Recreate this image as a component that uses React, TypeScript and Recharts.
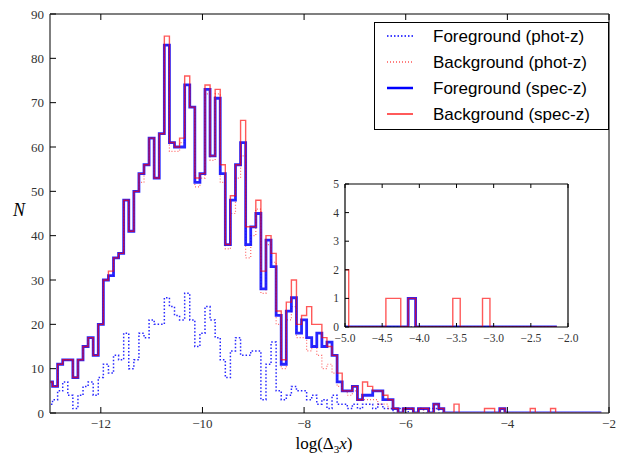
import React from "react";
import { Line, LineChart, XAxis, YAxis } from "recharts";

// histogram bins: left edge of the first bin and bin width in log(Delta_3 x)
const binLeft = -13.05;
const binWidth = 0.1;

const fgPhot = [
  2, 3, 5, 7, 4, 1, 4, 6, 7, 4,
  8, 11, 9, 13, 12, 18, 10, 12, 18, 17,
  21, 20, 20, 26, 24, 22, 21, 27, 21, 15,
  18, 24, 21, 17, 12, 8, 14, 17, 13, 13,
  14, 14, 3, 11, 16, 5, 3, 4, 6, 5,
  5, 3, 4, 2, 3, 1, 4, 2, 2, 1,
  2, 1, 2, 2, 1, 2, 1, 1, 0, 1,
  0, 1, 0, 1, 0, 1, 1, 0, 0, 0,
  0, 0, 0, 0, 0, 0, 0, 0, 0, 0,
  0, 0, 0, 0, 0, 0, 0, 0, 0, 0,
  0, 0, 0, 0, 0, 0, 0, 0, 0,
];

const bgPhot = [
  7, 6, 11, 12, 12, 8, 12, 15, 17, 13,
  20, 30, 31, 35, 36, 48, 41, 50, 52, 56,
  62, 53, 63, 83, 59, 59, 61, 74, 69, 51,
  53, 72, 57, 72, 52, 37, 45, 53, 58, 35,
  40, 46, 27, 38, 34, 20, 10, 21, 24, 17,
  17, 14, 15, 13, 10, 11, 9, 6, 5, 4,
  5, 3, 3, 3, 3, 2, 2, 1, 1, 0,
  1, 1, 0, 1, 0, 0, 1, 1, 0, 0,
  0, 0, 0, 0, 0, 0, 0, 0, 0, 0,
  0, 0, 0, 0, 0, 0, 0, 0, 0, 0,
  0, 0, 0, 0, 0, 0, 0, 0, 0,
];

const fgSpec = [
  7, 6, 11, 12, 12, 8, 12, 15, 17, 13,
  20, 30, 31, 35, 36, 48, 41, 50, 54, 56,
  62, 53, 63, 83, 61, 60, 60, 74, 69, 52,
  54, 73, 58, 71, 54, 38, 48, 56, 61, 38,
  42, 45, 28, 39, 33, 22, 11, 23, 26, 18,
  21, 17, 15, 18, 15, 16, 13, 7, 5, 5,
  6, 3, 4, 4, 5, 5, 3, 3, 1, 0,
  1, 1, 0, 1, 1, 0, 2, 1, 0, 0,
  0, 0, 0, 0, 0, 0, 0, 0, 0, 1,
  0, 0, 0, 0, 0, 0, 0, 0, 0, 0,
  0, 0, 0, 0, 0, 0, 0, 0, 0,
];

const bgSpec = [
  7, 6, 11, 12, 12, 8, 12, 15, 17, 13,
  20, 30, 32, 35, 36, 48, 41, 50, 54, 56,
  62, 53, 63, 85, 61, 60, 62, 76, 69, 53,
  54, 74, 58, 73, 56, 38, 49, 56, 66, 42,
  42, 48, 32, 40, 36, 23, 12, 25, 30, 20,
  22, 24, 20, 20, 17, 15, 13, 9, 5, 5,
  6, 3, 7, 6, 5, 5, 4, 3, 1, 0,
  1, 1, 0, 1, 1, 0, 2, 1, 0, 0,
  2, 0, 0, 0, 0, 0, 1, 1, 0, 1,
  0, 0, 0, 0, 0, 1, 0, 0, 0, 1,
  0, 0, 0, 0, 0, 0, 0, 0, 0,
];

const mainXTicks = [-12, -10, -8, -6, -4, -2];
const mainYTicks = [0, 10, 20, 30, 40, 50, 60, 70, 80, 90];
const insetXTicks = [-5, -4.5, -4, -3.5, -3, -2.5, -2];
const insetYTicks = [0, 1, 2, 3, 4, 5];

const legendItems = [
  { label: "Foreground (phot-z)", color: "#0000ff", width: 1.5, dash: "1.5 2" },
  { label: "Background (phot-z)", color: "#ff0000", width: 1.2, dash: "1 2" },
  { label: "Foreground (spec-z)", color: "#0000ff", width: 2.5, dash: undefined },
  { label: "Background (spec-z)", color: "#ff0000", width: 1.3, dash: undefined },
];

const rows = fgSpec.map((_, i) => ({
  x: +(binLeft + i * binWidth).toFixed(2),
  fgPhot: fgPhot[i],
  bgPhot: bgPhot[i],
  fgSpec: fgSpec[i],
  bgSpec: bgSpec[i],
}));
rows.push({ x: +(binLeft + fgSpec.length * binWidth).toFixed(2), fgPhot: 0, bgPhot: 0, fgSpec: 0, bgSpec: 0 });

const SERIF = "'Liberation Serif', 'DejaVu Serif', serif";
const SANS = "'Liberation Sans', Arial, sans-serif";

// main plot box (page pixels)
const PL = 50, PR = 609, PT = 14, PB = 413;
// inset chart placement and its plot box (inset svg pixels)
const INX = 320, INY = 174, INW = 260, INH = 180;
const IL = 25, IR = 248, IT = 10, IB = 153;

const minus = (v: number, digits = 0) => (v < 0 ? "\u2212" : "") + Math.abs(v).toFixed(digits);

function series() {
  return [
    <Line key="fp" dataKey="fgPhot" type="stepAfter" stroke="#0000ff" strokeWidth={1.5} strokeDasharray="1.5 2" strokeOpacity={0.85} dot={false} isAnimationActive={false} />,
    <Line key="bp" dataKey="bgPhot" type="stepAfter" stroke="#ff0000" strokeWidth={1.2} strokeDasharray="1 2" strokeOpacity={0.6} dot={false} isAnimationActive={false} />,
    <Line key="fs" dataKey="fgSpec" type="stepAfter" stroke="#0000ff" strokeWidth={2.8} strokeOpacity={0.85} dot={false} isAnimationActive={false} />,
    <Line key="bs" dataKey="bgSpec" type="stepAfter" stroke="#ff0000" strokeWidth={1.4} strokeOpacity={0.65} dot={false} isAnimationActive={false} />,
  ];
}

function tickSet(box: { l: number; r: number; t: number; b: number }, len: number, size: number, digits: number) {
  const bottom = ({ x, y, payload }: any) => (
    <g>
      <line x1={x} x2={x} y1={box.b} y2={box.b - len} stroke="#000" />
      <text x={x} y={y} dy="0.75em" textAnchor="middle" fontFamily={SERIF} fontSize={size} fill="#333">
        {minus(payload.value, digits)}
      </text>
    </g>
  );
  const left = ({ x, y, payload }: any) => (
    <g>
      <line x1={box.l} x2={box.l + len} y1={y} y2={y} stroke="#000" />
      <text x={x} y={y} dy="0.35em" textAnchor="end" fontFamily={SERIF} fontSize={size} fill="#333">
        {payload.value}
      </text>
    </g>
  );
  const top = ({ x }: any) => <line x1={x} x2={x} y1={box.t} y2={box.t + len} stroke="#000" />;
  const right = ({ y }: any) => <line x1={box.r} x2={box.r - len} y1={y} y2={y} stroke="#000" />;
  return { bottom, left, top, right };
}

const mainTicks = tickSet({ l: PL, r: PR, t: PT, b: PB }, 6, 13, 0);
const insetTicks = tickSet({ l: IL, r: IR, t: IT, b: IB }, 4, 11.5, 1);

const mainAxisLine = { stroke: "#555", strokeWidth: 1.5 };
const insetAxisLine = { stroke: "#000", strokeWidth: 1.2 };

export default function App() {
  return (
    <div style={{ position: "absolute", left: 0, top: 0, width: 617, height: 457, background: "#fff" }}>
      <div style={{ position: "absolute", left: 0, top: 0 }}>
        <LineChart width={617} height={457} data={rows} margin={{ top: PT - 1, right: 617 - PR - 1, bottom: 457 - PB - 30, left: 0 }}>
          <XAxis dataKey="x" type="number" domain={[-13, -2]} allowDataOverflow ticks={mainXTicks} height={30} tickSize={0} tickMargin={5} tickLine={false} axisLine={mainAxisLine} tick={mainTicks.bottom} interval={0} />
          <XAxis xAxisId="top" orientation="top" dataKey="x" type="number" domain={[-13, -2]} allowDataOverflow ticks={mainXTicks} height={1} tickSize={0} tickLine={false} axisLine={mainAxisLine} tick={mainTicks.top} interval={0} />
          <YAxis type="number" domain={[0, 90]} allowDataOverflow ticks={mainYTicks} width={PL} tickSize={0} tickMargin={6} tickLine={false} axisLine={mainAxisLine} tick={mainTicks.left} interval={0} />
          <YAxis yAxisId="right" orientation="right" type="number" domain={[0, 90]} ticks={mainYTicks} width={1} tickSize={0} tickLine={false} axisLine={mainAxisLine} tick={mainTicks.right} interval={0} />
          {series()}
        </LineChart>
      </div>

      <svg width={617} height={457} style={{ position: "absolute", left: 0, top: 0, pointerEvents: "none" }}>
        <text x={19} y={216} fontFamily={SERIF} fontStyle="italic" fontSize={18} textAnchor="middle" fill="#000">N</text>
        <text x={324} y={449} fontFamily={SERIF} fontSize={17} textAnchor="middle" fill="#000">
          log(Δ<tspan fontSize={11} dy={4}>3</tspan><tspan dy={-4} fontStyle="italic">x</tspan>)
        </text>
      </svg>

      <div style={{ position: "absolute", left: INX + IL, top: INY + IT, width: IR - IL, height: IB - IT, background: "#fff" }} />
      <div style={{ position: "absolute", left: INX, top: INY }}>
        <LineChart width={INW} height={INH} data={rows} margin={{ top: IT - 1, right: INW - IR - 1, bottom: INH - IB - 20, left: 0 }}>
          <XAxis dataKey="x" type="number" domain={[-5, -2]} allowDataOverflow ticks={insetXTicks} height={20} tickSize={0} tickMargin={6} tickLine={false} axisLine={insetAxisLine} tick={insetTicks.bottom} interval={0} />
          <XAxis xAxisId="top" orientation="top" dataKey="x" type="number" domain={[-5, -2]} allowDataOverflow ticks={insetXTicks} height={1} tickSize={0} tickLine={false} axisLine={insetAxisLine} tick={insetTicks.top} interval={0} />
          <YAxis type="number" domain={[0, 5]} allowDataOverflow ticks={insetYTicks} width={IL} tickSize={0} tickMargin={6} tickLine={false} axisLine={insetAxisLine} tick={insetTicks.left} interval={0} />
          <YAxis yAxisId="right" orientation="right" type="number" domain={[0, 5]} ticks={insetYTicks} width={1} tickSize={0} tickLine={false} axisLine={insetAxisLine} tick={insetTicks.right} interval={0} />
          {series()}
        </LineChart>
      </div>

      <div style={{ position: "absolute", left: 374, top: 22, width: 233, height: 106, border: "1px solid #000", background: "#fff" }}>
        <svg width={233} height={106}>
          {legendItems.map((it, i) => (
            <g key={it.label}>
              <line x1={12} x2={38} y1={13 + i * 26} y2={13 + i * 26} stroke={it.color} strokeWidth={it.width} strokeDasharray={it.dash} />
              <text x={58} y={13 + i * 26} dy="0.35em" fontFamily={SANS} fontSize={17} fill="#000">{it.label}</text>
            </g>
          ))}
        </svg>
      </div>
    </div>
  );
}
